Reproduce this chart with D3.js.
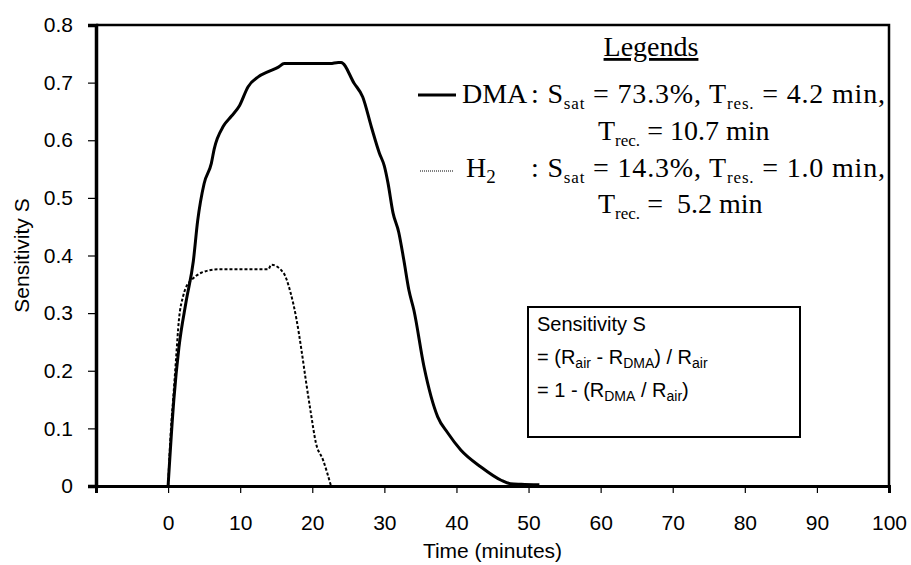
<!DOCTYPE html>
<html>
<head>
<meta charset="utf-8">
<script src="https://cdn.jsdelivr.net/npm/d3@7"></script>
<style>
  body { margin: 0; background: #fff; }
  svg { display: block; }
  text { white-space: pre; }
</style>
</head>
<body>
<div id="chart"></div>
<script>
// DMA response (time in minutes, sensitivity S)
const dmaTime = [0, 0.8, 1.5, 2.5, 3.5, 4.1, 5, 6, 6.4, 7.7, 8.8, 9.9, 11.1, 12.5, 13.9, 15.3, 16.1, 18, 20, 22.5, 23.6, 24,
  25.8, 27, 28.2, 29.3, 30, 30.5, 31.2, 32, 32.7, 33.4, 34.1, 35.5, 37.4, 38.8, 40.6, 43.4, 46.2, 47.5, 49, 51.5];
const dmaS = [0, 0.15, 0.24, 0.32, 0.39, 0.46, 0.525, 0.56, 0.585, 0.625, 0.642, 0.66, 0.693, 0.71, 0.719, 0.727, 0.733, 0.733, 0.733, 0.733, 0.735, 0.735,
  0.699, 0.675, 0.623, 0.578, 0.555, 0.526, 0.474, 0.44, 0.392, 0.34, 0.305, 0.207, 0.12, 0.092, 0.0625, 0.033, 0.01, 0.004, 0.003, 0.002];

// H2 response
const h2Time = [0, 0.4, 0.7, 1.1, 1.5, 2.1, 2.7, 3.2, 4.6, 6.9, 10, 13.9, 14.3, 16, 17, 17.8, 18.5, 19.1, 19.8, 20.5, 21.5, 22.6];
const h2S = [0, 0.1, 0.15, 0.22, 0.288, 0.33, 0.35, 0.357, 0.37, 0.376, 0.376, 0.376, 0.384, 0.37, 0.335, 0.29, 0.236, 0.184, 0.127, 0.075, 0.045, 0];

const xTicks = [-10, 0, 10, 20, 30, 40, 50, 60, 70, 80, 90, 100];
const yTicks = [0, 0.1, 0.2, 0.3, 0.4, 0.5, 0.6, 0.7, 0.8];

const width = 911;
const height = 565;
const margin = { top: 25, right: 22, bottom: 79, left: 96 };
const sans = 'Arial, "Liberation Sans", sans-serif';
const serif = '"Times New Roman", "Liberation Serif", serif';

const svg = d3.select('#chart').append('svg')
  .attr('width', width)
  .attr('height', height);

const x = d3.scaleLinear().domain([-10, 100]).range([margin.left, width - margin.right]);
const y = d3.scaleLinear().domain([0, 0.8]).range([height - margin.bottom, margin.top]);

// frame (top + right)
svg.append('path')
  .attr('d', `M${x(-10)},${y(0.8)}H${x(100)}V${y(0)}`)
  .attr('fill', 'none')
  .attr('stroke', '#000')
  .attr('stroke-width', 2.5);

const yAxis = svg.append('g')
  .attr('transform', `translate(${x(-10)},0)`)
  .call(d3.axisLeft(y).tickValues(yTicks).tickSize(8).tickPadding(15)
    .tickFormat(d => (d === 0 ? '0' : d3.format('.1f')(d))));
yAxis.select('.domain').attr('stroke-width', 3.5);
yAxis.selectAll('.tick line').attr('stroke-width', 1.2);
yAxis.selectAll('text').style('font-family', sans).style('font-size', '21px').attr('fill', '#000');

const xAxis = svg.append('g')
  .attr('transform', `translate(0,${y(0)})`)
  .call(d3.axisBottom(x).tickValues(xTicks).tickSize(7).tickPadding(22)
    .tickFormat(d => (d < 0 ? '' : d)));
xAxis.select('.domain').attr('stroke-width', 3);
xAxis.selectAll('.tick line').attr('stroke-width', 1.2);
xAxis.selectAll('text').style('font-family', sans).style('font-size', '21px').attr('fill', '#000');

svg.append('text')
  .attr('x', (x(-10) + x(100)) / 2)
  .attr('y', 558)
  .attr('text-anchor', 'middle')
  .style('font-family', sans).style('font-size', '21px')
  .text('Time (minutes)');

svg.append('text')
  .attr('transform', `translate(29,${(y(0) + y(0.8)) / 2}) rotate(-90)`)
  .attr('text-anchor', 'middle')
  .style('font-family', sans).style('font-size', '21px')
  .text('Sensitivity S');

const line = d3.line().x(d => x(d[0])).y(d => y(d[1])).curve(d3.curveMonotoneX);

svg.append('path')
  .datum(h2Time.map((t, i) => [t, h2S[i]]))
  .attr('d', line)
  .attr('fill', 'none')
  .attr('stroke', '#000')
  .attr('stroke-width', 2)
  .attr('stroke-dasharray', '3,2');

svg.append('path')
  .datum(dmaTime.map((t, i) => [t, dmaS[i]]))
  .attr('d', line)
  .attr('fill', 'none')
  .attr('stroke', '#000')
  .attr('stroke-width', 3)
  .attr('stroke-linejoin', 'round');

// text with subscripts: parts = [[string, isSub], ...]
function richText(g, px, py, parts, size, family, subSize, fitTo) {
  const t = g.append('text')
    .attr('x', px).attr('y', py)
    .style('font-family', family)
    .style('font-size', `${size}px`)
    .attr('fill', '#000');
  const shift = Math.round(size * 0.22);
  let cur = 0;
  parts.forEach(([s, sub]) => {
    const want = sub ? shift : 0;
    const ts = t.append('tspan').attr('dy', want - cur).text(s);
    if (sub) ts.style('font-size', `${subSize}px`);
    cur = want;
  });
  if (fitTo) t.attr('textLength', fitTo).attr('lengthAdjust', 'spacing');
  return t;
}

const legend = svg.append('g');
const lf = 28;
const lsub = 17;
legend.append('text')
  .attr('x', 651).attr('y', 56)
  .attr('text-anchor', 'middle')
  .style('font-family', serif).style('font-size', `${lf}px`)
  .style('text-decoration', 'underline')
  .text('Legends');

legend.append('line')
  .attr('x1', 418).attr('x2', 456).attr('y1', 95).attr('y2', 95)
  .attr('stroke', '#000').attr('stroke-width', 3);
richText(legend, 462, 103, [['DMA']], lf, serif, lsub);
richText(legend, 531, 103, [[': S'], ['sat', true], [' = 73.3%, T'], ['res.', true], [' = 4.2 min,']], lf, serif, lsub, 354);
richText(legend, 598, 140, [['T'], ['rec.', true], [' = 10.7 min']], lf, serif, lsub);

legend.append('line')
  .attr('x1', 420).attr('x2', 454).attr('y1', 171).attr('y2', 171)
  .attr('stroke', '#000').attr('stroke-width', 1)
  .attr('stroke-dasharray', '1,1');
richText(legend, 466, 177, [['H'], ['2', true]], lf, serif, lsub + 2);
richText(legend, 531, 177, [[': S'], ['sat', true], [' = 14.3%, T'], ['res.', true], [' = 1.0 min,']], lf, serif, lsub, 354);
richText(legend, 598, 213, [['T'], ['rec.', true], [' =  5.2 min']], lf, serif, lsub);

// formula box
const box = svg.append('g');
box.append('rect')
  .attr('x', 528).attr('y', 307).attr('width', 272).attr('height', 130)
  .attr('fill', '#fff').attr('stroke', '#000').attr('stroke-width', 2);
richText(box, 537, 331, [['Sensitivity S']], 20, sans, 14);
richText(box, 537, 364, [['= (R'], ['air', true], [' - R'], ['DMA', true], [') / R'], ['air', true]], 20, sans, 14);
richText(box, 537, 397, [['= 1 - (R'], ['DMA', true], [' / R'], ['air', true], [')']], 20, sans, 14);
</script>
</body>
</html>
